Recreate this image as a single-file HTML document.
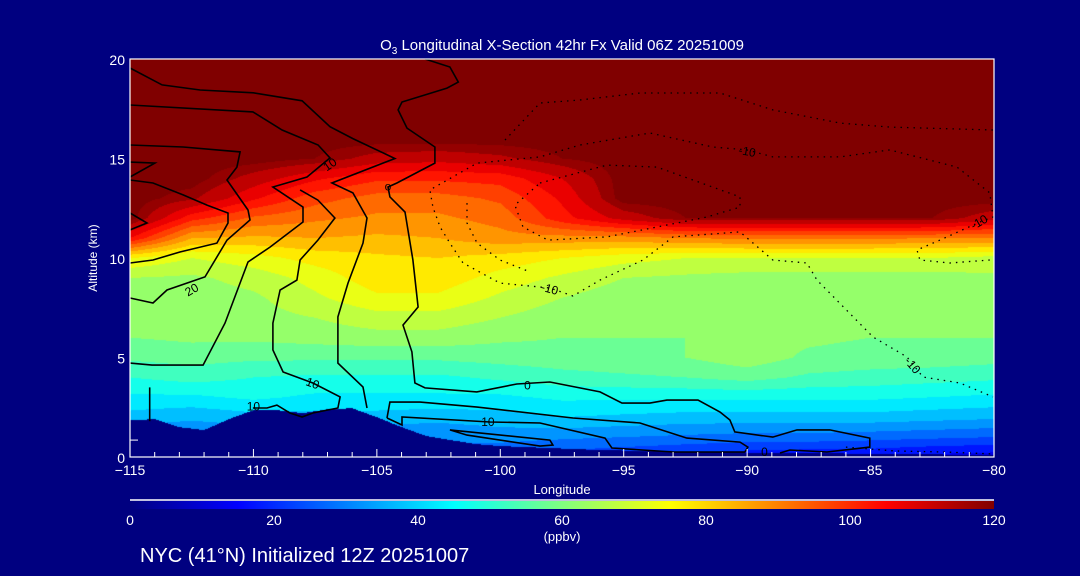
<!DOCTYPE html>
<html><head><meta charset="utf-8">
<style>
html,body{margin:0;padding:0;background:#000080;}
#wrap{position:relative;width:1080px;height:576px;background:#000080;overflow:hidden;font-family:"Liberation Sans",sans-serif;color:#fff;}
canvas{position:absolute;left:130px;top:59px;}
svg{position:absolute;left:0;top:0;}
</style></head>
<body>
<div id="wrap">
<canvas id="field" width="864" height="398"></canvas>
<svg id="ov" width="1080" height="576"></svg>
</div>
<script>
// ---- data ----
const lons = [-115,-112.5,-110,-107.5,-105,-102.5,-100,-97.5,-95,-92.5,-90,-87.5,-85,-82.5,-80];
const alts = [0,1,2,3,4,5,6,7,8,9,10,11,12,13,14,15,16,17,18,19,20];
const row0  = [30,30,30,30,30,30,25,22,20,18,16,15,15,13,12];
const row1  = [30,30,30,30,30,30,32,31,30,29,28,28,27,26,25];
const row2  = [38,36,38,38,38,37,38,40,39,38,38,38,38,37,36];
const row3  = [44,44,46,44,44,44,44,46,46,46,46,46,46,45,44];
const row4  = [50,52,50,49,49,49,51,53,54,55,57,54,53,52,51];
const row5  = [56,57,56,56,56,56,57,58,59,60,63,59,58,58,57];
const row6  = [60,61,61,62,63,63,61,60,60,60,61,61,60,60,60];
const row7  = [62,62,63,65,68,68,65,62,61,60,60,60,61,61,62];
const row8  = [62,62,64,69,74,74,69,65,62,61,61,61,62,62,63];
const row9  = [65,64,67,72,78,78,73,69,65,64,63,63,63,63,64];
const row10 = [75,70,73,77,79,80,78,75,72,70,70,70,70,70,68];
const row11 = [105,85,84,85,84,85,88,88,88,90,91,91,91,90,90];
const row12 = [120,102,94,91,89,89,92,103,112,118,118,118,118,118,112];
const row13 = [120,116,106,97,93,93,96,106,120,120,120,120,120,120,120];
const row14 = [120,120,113,106,101,101,102,110,120,120,120,120,120,120,120];
const row15 = [120,120,120,118,113,112,114,118,120,120,120,120,120,120,120];
const rowTop = [120,120,120,120,120,120,120,120,120,120,120,120,120,120,120];
const grid = [row0,row1,row2,row3,row4,row5,row6,row7,row8,row9,row10,row11,row12,row13,row14,row15,rowTop,rowTop,rowTop,rowTop,rowTop];
const terrainLons = [-115,-114,-113,-112,-111,-110,-109,-108,-107,-106,-105,-104,-103,-102,-101,-100,-98,-96,-92,-88,-84,-80];
const terrainAlts = [1.85,1.9,1.5,1.35,1.9,2.35,2.35,2.2,2.4,2.45,2.0,1.5,1.05,0.85,0.65,0.55,0.45,0.35,0.25,0.2,0.15,0.1];
const xTicks = [-115,-110,-105,-100,-95,-90,-85,-80];
const yTicks = [0,5,10,15,20];
const cbTicks = [0,20,40,60,80,100,120];
// contour lines (lon, alt pairs)
const solidLines = [
 [[-115,19.55],[-113.7,18.7],[-112.16,18.44],[-110,18.3],[-108.03,17.9],[-106.9,16.6],[-105.97,16],[-104.27,15],[-106.82,13.77],[-105.97,13.27],[-105.4,12.01],[-105.56,10.75],[-106.17,8.74],[-106.58,7.04],[-106.58,4.72],[-105.56,3.52],[-105.4,2.46]],
 [[-103.05,20],[-102.04,19.6],[-101.7,18.84],[-102.16,18.54],[-103.98,17.84],[-104.14,17.44],[-103.78,16.53],[-102.65,15.58],[-102.65,14.77],[-104.19,13.77],[-104.55,13.57],[-104.47,13.07],[-103.86,12.31],[-103.54,9.9],[-103.33,7.54],[-103.94,6.63],[-103.58,5.28],[-103.46,3.72],[-103.05,3.47],[-100.95,3.27],[-99.33,3.67],[-97.99,3.77],[-95.96,3.27],[-95.07,2.71],[-93.94,2.71],[-93.25,2.86],[-91.99,2.86],[-91.1,2.26],[-90.7,1.86],[-90.5,1.26],[-88.96,1],[-87.98,1.36],[-86.65,1.36],[-85.03,0.95],[-85.03,0.5],[-86.77,0.25],[-88.27,0.35],[-88.67,0.2]],
 [[-115,15.68],[-112.85,15.58],[-110.54,15.33],[-110.67,14.57],[-111.07,13.92],[-110.22,12.41],[-110.14,11.91],[-111.07,10.9],[-111.96,9.05],[-113.5,8.39],[-114.07,7.74],[-115,7.99]],
 [[-115,14.82],[-113.99,14.77],[-115,14.07]],
 [[-115,13.92],[-114.07,13.77],[-112.85,13.17],[-111.88,12.66],[-111.03,12.26],[-111.03,11.76],[-111.48,10.75],[-112.98,10.3],[-114.07,9.9],[-115,9.75]],
 [[-115,12.26],[-114.31,11.76],[-115,11.41]],
 [[-115,17.69],[-110.02,17.34],[-108.84,16.43],[-107.38,15.68],[-106.9,15.03],[-107.83,14.07],[-109.21,13.57],[-107.99,12.56],[-107.99,11.81],[-109.33,10.55],[-110.22,9.8],[-111.15,6.73],[-112.04,4.62],[-114.11,4.62],[-115,4.72]],
 [[-108.11,13.42],[-107.39,12.91],[-106.7,12.01],[-107.39,10.9],[-108.11,9.9],[-108.24,8.89],[-108.92,8.39],[-109.21,6.73],[-109.21,5.38],[-108.8,4.27],[-107.59,3.72],[-106.49,3.02],[-106.58,2.46],[-107.59,2.21],[-108.03,2.01],[-108.52,2.21],[-109.05,2.61],[-109.45,2.46],[-110.02,2.46]],
 [[-104.59,1.96],[-104.47,2.76],[-103.25,2.76],[-100.94,2.51],[-97.06,1.96],[-94.34,1.71],[-92.44,0.95],[-90.29,0.75],[-89.97,0.5],[-90.09,0.25],[-93,0.25],[-95.48,0.45],[-95.76,0.95],[-98.39,1.71],[-100.42,1.76],[-103.98,2.01],[-103.98,1.61],[-104.59,1.96]],
 [[-102.04,1.36],[-97.99,0.85],[-97.87,0.6],[-98.39,0.55],[-101.35,1.1],[-102.04,1.36]],
 [[-114.2,1.8],[-114.2,3.5]]
];
const dottedLines = [
 [[-80.17,9.9],[-81.79,9.75],[-83,9.9],[-83.12,10.4],[-82.19,10.9],[-80.57,11.81],[-80.04,12.06],[-80.17,13.27],[-81.5,14.57],[-84.22,15.43],[-86.24,15.08],[-88.96,15.08],[-90.01,15.43],[-91.39,15.58],[-93.94,16.28],[-96.77,15.68],[-98.39,15.08],[-100.94,14.77],[-102.85,13.42],[-102.73,12.56],[-102.44,11.56],[-102.04,10.75],[-101.51,9.75],[-100.01,8.74],[-97.99,8.49],[-97.06,8.09],[-95.96,8.89],[-94.22,9.9],[-93,11.06],[-90.29,11.31],[-88.96,9.9],[-87.58,9.75],[-87.17,8.89],[-84.9,6.03],[-83.53,5.03],[-82.88,4.02],[-81.38,3.72],[-80.04,3.02]],
 [[-98.39,13.77],[-95.68,14.67],[-93.65,14.57],[-90.29,13.07],[-90.29,12.56],[-91.63,12.06],[-93.65,11.56],[-95.68,11.06],[-98.07,10.9],[-99.08,11.56],[-99.41,12.66],[-98.39,13.77]],
 [[-99.81,15.93],[-98.39,17.79],[-96.77,17.94],[-94.34,18.29],[-91.1,18.29],[-88.96,17.44],[-86.24,16.78],[-84.22,16.58],[-80.04,16.43]],
 [[-101.35,12.76],[-101.35,11.76],[-100.94,10.75],[-100.01,9.9],[-98.8,9.3]],
 [[-86,0.5],[-84,0.3],[-82,0.25],[-80,0.15]]
];
const labelText = ["10","20","10","10","0","10","0","o","-10","-10","-10","-10"];
const labelLon  = [-106.9,-112.5,-107.6,-110.0,-98.9,-100.5,-89.3,-104.55,-90.0,-98.0,-83.3,-80.6];
const labelAlt  = [14.7,8.4,3.7,2.55,3.6,1.75,0.25,13.6,15.35,8.45,4.6,11.8];
const labelRot  = [-35,-30,20,0,0,0,0,0,10,15,50,-30];

// ---- scales ----
const X0=130,X1=994,Y0=457,Y1=59;
const xs = lon => X0 + (lon+115)/35*(X1-X0);
const ys = a => Y0 - a/20*(Y0-Y1);
function jet(t){
  t=Math.max(0,Math.min(1,t));
  const f=(a)=>Math.max(0,Math.min(1,a));
  const r=f(Math.min(4*t-1.5,-4*t+4.5)), g=f(Math.min(4*t-0.5,-4*t+3.5)), b=f(Math.min(4*t+0.5,-4*t+2.5));
  return [Math.round(r*255),Math.round(g*255),Math.round(b*255)];
}
function terrainAt(lon){
  for(let i=0;i<terrainLons.length-1;i++){
    if(lon<=terrainLons[i+1]){const u=(lon-terrainLons[i])/(terrainLons[i+1]-terrainLons[i]);return terrainAlts[i]+u*(terrainAlts[i+1]-terrainAlts[i]);}
  }
  return terrainAlts[terrainAlts.length-1];
}
function valAt(lon,alt){
  let fi=(lon-lons[0])/(lons[1]-lons[0]); fi=Math.max(0,Math.min(lons.length-1.0001,fi));
  let fj=(alt-alts[0])/(alts[1]-alts[0]); fj=Math.max(0,Math.min(alts.length-1.0001,fj));
  const i=Math.floor(fi),j=Math.floor(fj),u=fi-i,v=fj-j;
  const a=grid[j][i],b=grid[j][i+1],c=grid[j+1][i],d=grid[j+1][i+1];
  return a*(1-u)*(1-v)+b*u*(1-v)+c*(1-u)*v+d*u*v;
}
// ---- field ----
const cv=document.getElementById('field'),ctx=cv.getContext('2d');
const W=cv.width,H=cv.height,img=ctx.createImageData(W,H);
for(let py=0;py<H;py++){
  const alt=(H-0.5-py)/H*20;
  for(let px=0;px<W;px++){
    const lon=-115+(px+0.5)/W*35;
    let col;
    if(alt<terrainAt(lon)) col=[0,0,128];
    else{const v=valAt(lon,alt);const lvl=Math.min(23,Math.floor(v/5));col=jet((lvl+0.5)/24);if(v>=118)col=jet(1);}
    const k=(py*W+px)*4;img.data[k]=col[0];img.data[k+1]=col[1];img.data[k+2]=col[2];img.data[k+3]=255;
  }
}
ctx.putImageData(img,0,0);

// ---- overlay ----
const NS='http://www.w3.org/2000/svg',svg=document.getElementById('ov');
function mk(tag,attrs,parent){const e=document.createElementNS(NS,tag);for(const k in attrs)e.setAttribute(k,attrs[k]);(parent||svg).appendChild(e);return e;}
const gC=mk('g',{});


solidLines.forEach(l=>{const p=mk('polyline',{points:l.map(q=>xs(q[0]).toFixed(1)+','+ys(q[1]).toFixed(1)).join(' '),fill:'none',stroke:'#000','stroke-width':1.6},gC);

});
dottedLines.forEach(l=>{const p=mk('polyline',{points:l.map(q=>xs(q[0]).toFixed(1)+','+ys(q[1]).toFixed(1)).join(' '),fill:'none',stroke:'#000','stroke-width':1.3,'stroke-dasharray':'1.5 5'},gC);

});
labelText.forEach((t,i)=>{const x=xs(labelLon[i]),y=ys(labelAlt[i]);
const e=mk('text',{x:x,y:y+4,'font-size':12,'text-anchor':'middle',fill:'#000',transform:`rotate(${labelRot[i]} ${x} ${y})`},gC);e.textContent=t;

});
// frame
const fr=mk('rect',{x:X0,y:Y1,width:X1-X0,height:Y0-Y1,fill:'none',stroke:'#fff','stroke-width':1.2});


// x minor ticks
for(let l=-115;l<=-80;l++){const x=xs(l);const len=(l%5===0)?8:5;const t=mk('line',{x1:x,x2:x,y1:Y0,y2:Y0-len,stroke:'#fff','stroke-width':1});

}
const yt0=mk('line',{x1:X0,x2:X0+8,y1:ys(0.85),y2:ys(0.85),stroke:'#fff'});


xTicks.forEach(v=>{const e=mk('text',{x:xs(v),y:475,'font-size':14,'text-anchor':'middle',fill:'#fff'});e.textContent=(v<0?'\u2212':'')+Math.abs(v);

});
yTicks.forEach(v=>{const e=mk('text',{x:125,y:ys(v)+6,'font-size':14,'text-anchor':'end',fill:'#fff'});e.textContent=v;

});
// colorbar
const defs=mk('defs',{});const lg=mk('linearGradient',{id:'cbg',x1:0,x2:1,y1:0,y2:0},defs);
for(let i=0;i<=24;i++){const c=jet(i/24);mk('stop',{offset:i/24,'stop-color':`rgb(${c})`},lg);}
const cbl=mk('line',{x1:X0,x2:X1,y1:500,y2:500,stroke:'#fff','stroke-width':1.5});


const cb=mk('rect',{x:X0,y:501,width:X1-X0,height:8,fill:'url(#cbg)'});


cbTicks.forEach(v=>{const e=mk('text',{x:X0+v/120*(X1-X0),y:525,'font-size':14,'text-anchor':'middle',fill:'#fff'});e.textContent=v;

});
</script>
<svg width="1080" height="576" style="position:absolute;left:0;top:0;pointer-events:none">
<text x="562" y="50" font-size="15" text-anchor="middle" fill="#fff" font-family="Liberation Sans">O<tspan font-size="10" dy="4">3</tspan><tspan dy="-4"> Longitudinal X-Section 42hr  Fx Valid 06Z 20251009</tspan></text>
<text x="562" y="494" font-size="13" text-anchor="middle" fill="#fff" font-family="Liberation Sans">Longitude</text>
<text x="97" y="258" font-size="12" text-anchor="middle" fill="#fff" font-family="Liberation Sans" transform="rotate(-90 97 258)">Altitude (km)</text>
<text x="562" y="541" font-size="13" text-anchor="middle" fill="#fff" font-family="Liberation Sans">(ppbv)</text>
<text x="140" y="562" font-size="20" fill="#fff" font-family="Liberation Sans">NYC (41°N) Initialized 12Z 20251007</text>
</svg>
</body></html>
